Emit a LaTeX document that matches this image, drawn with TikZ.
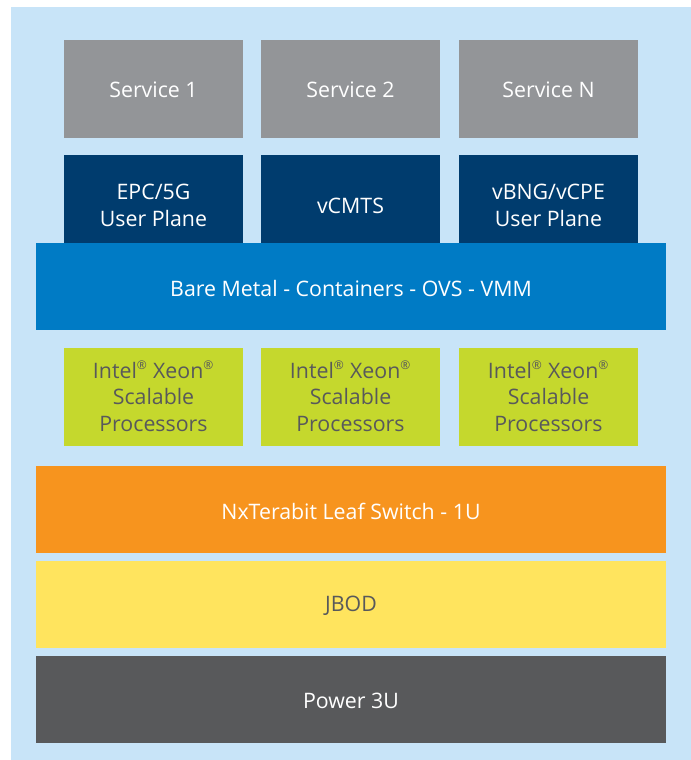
\documentclass[tikz,border=0pt]{standalone}
\usepackage{fontspec}
\setmainfont{Open Sans}
\definecolor{bgblue}{HTML}{C8E4F8}
\definecolor{svcgray}{HTML}{939598}
\definecolor{navy}{HTML}{003C6E}
\definecolor{midblue}{HTML}{007BC5}
\definecolor{lime}{HTML}{C5D82D}
\definecolor{orng}{HTML}{F7941E}
\definecolor{yell}{HTML}{FFE45E}
\definecolor{dkgray}{HTML}{58595B}
\definecolor{txtgray}{HTML}{58595B}
\tikzset{
  box/.style={draw=none, inner sep=0pt},
  small/.style={box, minimum width=179*0.75pt, minimum height=98*0.75pt},
  wide/.style={box, minimum width=630*0.75pt, minimum height=87*0.75pt},
  txt/.style={inner sep=0pt, align=center, font=\fontsize{16}{20.1}\selectfont},
  wtxt/.style={txt, text=white},
  gtxt/.style={txt, text=txtgray},
}
\newcommand{\reg}{\textsuperscript{\fontsize{9}{9}\selectfont ®}}
\begin{document}
\begin{tikzpicture}[x=0.75pt,y=-0.75pt]
\useasboundingbox (0,0) rectangle (691,760);
\fill[bgblue] (11,7) rectangle (691,760);
% services
\node[small, fill=svcgray] (s1) at (153.5,89) {};
\node[small, fill=svcgray] (s2) at (350.5,89) {};
\node[small, fill=svcgray] (sn) at (548.5,89) {};
\node[wtxt] (s1t) at (153.5,90) {Service 1};
\node[wtxt] (s2t) at (350.5,90) {Service 2};
\node[wtxt] (snt) at (548.5,90) {Service N};
% user planes
\node[small, fill=navy, minimum height=88*0.75pt] (u1) at (153.5,199) {};
\node[small, fill=navy, minimum height=88*0.75pt] (u2) at (350.5,199) {};
\node[small, fill=navy, minimum height=88*0.75pt] (u3) at (548.5,199) {};
\node[wtxt] (u1t) at (153.5,205.5) {EPC/5G\\User Plane};
\node[wtxt] (u2t) at (350.5,205.5) {vCMTS};
\node[wtxt] (u3t) at (548.5,205.5) {vBNG/vCPE\\User Plane};
% bare metal
\node[wide, fill=midblue] (bm) at (351,286.5) {};
\node[wtxt] (bmt) at (351,288) {Bare Metal - Containers - OVS - VMM};
% cpus
\node[small, fill=lime] (c1) at (153.5,397) {};
\node[small, fill=lime] (c2) at (350.5,397) {};
\node[small, fill=lime] (c3) at (548.5,397) {};
\node[gtxt] (c1t) at (153.5,396.5) {Intel\reg{} Xeon\reg\\Scalable\\Processors};
\node[gtxt] (c2t) at (350.5,396.5) {Intel\reg{} Xeon\reg\\Scalable\\Processors};
\node[gtxt] (c3t) at (548.5,396.5) {Intel\reg{} Xeon\reg\\Scalable\\Processors};
% switch, jbod, power
\node[wide, fill=orng] (sw) at (351,509.5) {};
\node[wtxt] (swt) at (351,511) {NxTerabit Leaf Switch - 1U};
\node[wide, fill=yell] (jb) at (351,604.5) {};
\node[gtxt] (jbt) at (351,606) {JBOD};
\node[wide, fill=dkgray] (pw) at (351,699.5) {};
\node[wtxt] (pwt) at (351,701) {Power 3U};
\end{tikzpicture}
\end{document}
